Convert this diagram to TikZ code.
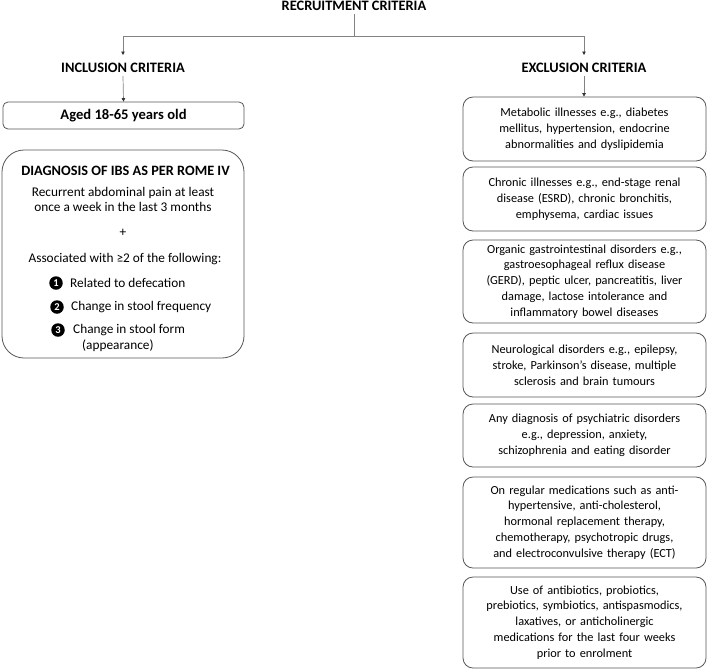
\documentclass[tikz,border=0pt]{standalone}
\usepackage{fontspec}
\setmainfont{Carlito}
\usetikzlibrary{arrows.meta}
\definecolor{boxgray}{RGB}{85,85,85}
\definecolor{linegray}{RGB}{130,130,130}
\newcommand\rightfs{\fontsize{12.3}{15.8}\selectfont}
\newcommand\leftfs{\fontsize{13.3}{15.5}\selectfont}
\newcommand\headfs{\fontsize{14.4}{16}\selectfont\bfseries}
\begin{document}
\begin{tikzpicture}[x=1pt,y=-1pt,
  box/.style={draw=boxgray, line width=0.8pt, rounded corners=10pt, align=center,
    inner sep=1pt, font=\rightfs, minimum width=243pt, text width=241pt},
  head/.style={font=\headfs, inner sep=3pt},
  txt/.style={font=\leftfs, inner sep=1pt, align=center},
  numc/.style={circle, fill=black, text=white, inner sep=0pt, minimum size=13.5pt,
    font=\fontsize{10.5}{10.5}\selectfont\bfseries},
  conn/.style={draw=linegray, line width=0.7pt},
  arr/.style={conn, -{Triangle[length=3.5pt,width=3.5pt,color=black!80]}}]
\useasboundingbox (0,0) rectangle (708,670);
% top
\node[head] (rec) at (354,6) {RECRUITMENT CRITERIA};
\node[head] (inc) at (123,68) {INCLUSION CRITERIA};
\node[head] (exc) at (584,68) {EXCLUSION CRITERIA};
\coordinate (j) at (354,36);
\coordinate (jl) at (123,36);
\coordinate (jr) at (584,36);
\coordinate (tl) at (123,55);
\coordinate (tr) at (584,55);
\draw[conn] (rec.south) -- (j);
\draw[conn] (jl) -- (jr);
\draw[arr] (jl) -- (tl);
\draw[arr] (jr) -- (tr);
% left
\node[draw=boxgray, line width=0.8pt, rounded corners=5pt, minimum width=241pt,
  minimum height=27pt, font=\fontsize{14.6}{16}\selectfont\bfseries, inner sep=0pt] (aged) at (123.5,115.5) {Aged 18-65 years old};
\draw[arr] (inc.south) -- (aged.north);
\node[draw=boxgray, line width=0.8pt, rounded corners=22pt, minimum width=242pt,
  minimum height=208pt, inner sep=0pt] (diag) at (123,254) {};
\node[head, font=\fontsize{14.3}{16}\selectfont\bfseries] (dh) at (125.5,171) {DIAGNOSIS OF IBS AS PER ROME IV};
\node[txt] (d1) at (123,199.5) {Recurrent abdominal pain at least\\once a week in the last 3 months};
\node[txt] (plus) at (123,233) {+};
\node[txt] (d2) at (125,259) {Associated with ≥2 of the following:};
\node[numc] (n1) at (56,283) {1};
\node[txt, anchor=west] (t1) at (69,283) {Related to defecation};
\node[numc] (n2) at (57,307) {2};
\node[txt, anchor=west] (t2) at (70,307) {Change in stool frequency};
\node[numc] (n3) at (58,330) {3};
\node[txt, anchor=west] (t3) at (72,330) {Change in stool form};
\node[txt, anchor=west] (t4) at (81,346) {(appearance)};
% right
\node[box, minimum height=64pt] (met) at (584.5,129) {Metabolic illnesses e.g., diabetes\\mellitus, hypertension, endocrine\\abnormalities and dyslipidemia};
\node[box, minimum height=64pt] (chr) at (584.5,199) {Chronic illnesses e.g., end-stage renal\\disease (ESRD), chronic bronchitis,\\emphysema, cardiac issues};
\node[box, minimum height=83pt] (org) at (584.5,281.5) {Organic gastrointestinal disorders e.g.,\\gastroesophageal reflux disease\\(GERD), peptic ulcer, pancreatitis, liver\\damage, lactose intolerance and\\inflammatory bowel diseases};
\node[box, minimum height=64pt] (neu) at (584.5,365) {Neurological disorders e.g., epilepsy,\\stroke, Parkinson’s disease, multiple\\sclerosis and brain tumours};
\node[box, minimum height=63pt] (psy) at (584.5,435.5) {Any diagnosis of psychiatric disorders\\e.g., depression, anxiety,\\schizophrenia and eating disorder};
\node[box, minimum height=91pt] (med) at (584.5,522.5) {On regular medications such as anti-\\hypertensive, anti-cholesterol,\\hormonal replacement therapy,\\chemotherapy, psychotropic drugs,\\and electroconvulsive therapy (ECT)};
\node[box, minimum height=91pt] (use) at (584.5,622.5) {Use of antibiotics, probiotics,\\prebiotics, symbiotics, antispasmodics,\\laxatives, or anticholinergic\\medications for the last four weeks\\prior to enrolment};
\draw[arr] (exc.south) -- (exc.south |- met.north);
\end{tikzpicture}
\end{document}
